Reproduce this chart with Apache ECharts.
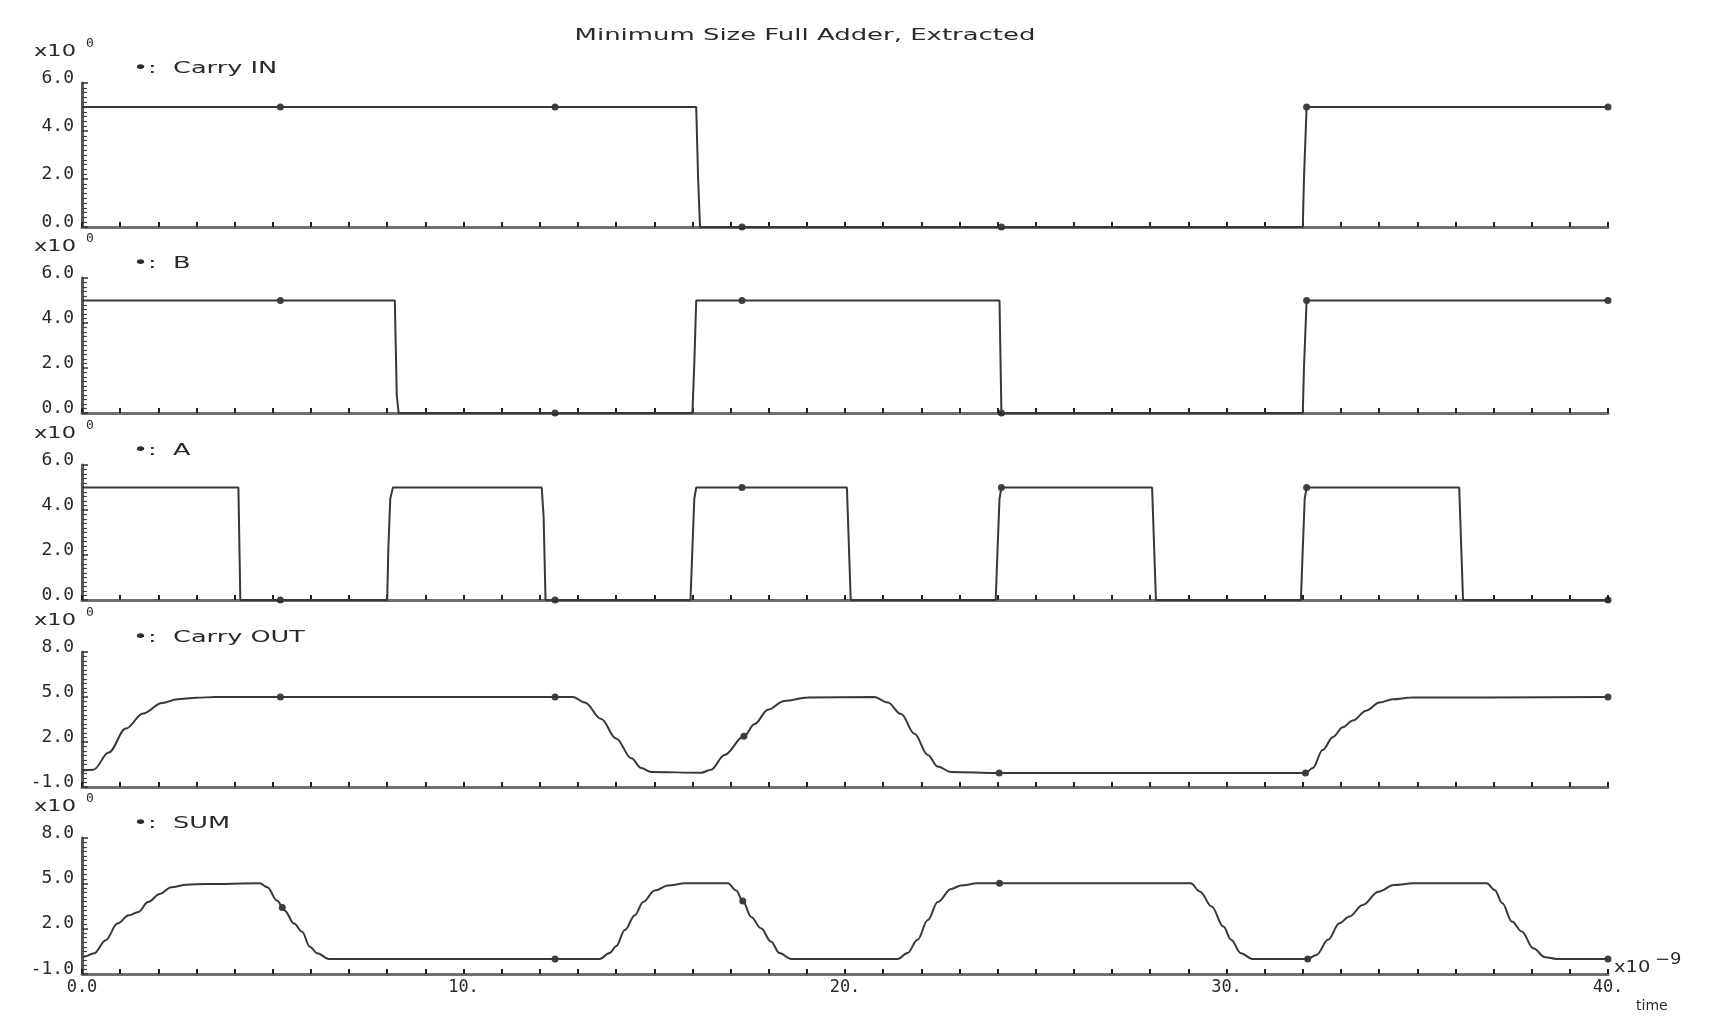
<!DOCTYPE html>
<html>
<head>
<meta charset="utf-8">
<script src="https://cdn.jsdelivr.net/npm/echarts/dist/echarts.min.js"></script>
<style>
html,body{margin:0;padding:0;background:#fff;}
#chart{width:1710px;height:1034px;}
</style>
</head>
<body>
<div id="chart"></div>
<script>
// ---------------- DATA (time in ns, value in V) ----------------
const chartTitle = 'Minimum Size Full Adder, Extracted';
const traceNames = ['Carry IN', 'B', 'A', 'Carry OUT', 'SUM'];

const carryIn = [[0,5],[16.1,5],[16.15,2],[16.2,0],[32.0,0],[32.03,2],[32.1,5],[40,5]];
const inB = [[0,5],[8.2,5],[8.25,0.8],[8.3,0],[16.0,0],[16.05,2.2],[16.1,5],[24.05,5],[24.1,0],[32.0,0],[32.03,2],[32.1,5],[40,5]];
const inA = [[0,5],[4.1,5],[4.15,0],[8.0,0],[8.03,2.3],[8.08,4.5],[8.15,5],[12.05,5],[12.1,3.7],[12.15,0],
             [15.95,0],[16.0,2.3],[16.05,4.5],[16.1,5],[20.05,5],[20.15,0],[23.95,0],[24.0,2.3],[24.05,4.5],[24.1,5],
             [28.05,5],[28.15,0],[31.95,0],[32.0,2.3],[32.05,4.5],[32.1,5],[36.1,5],[36.2,0],[40,0]];
const carryOut = [[0,0.1],[0.3,0.15],[0.7,1.3],[1.15,2.9],[1.6,3.9],[2.1,4.6],[2.5,4.85],[3.0,4.95],[3.5,5],
             [12.87,5],[13.18,4.63],[13.61,3.54],[14.0,2.23],[14.4,0.92],[14.66,0.26],[14.92,0],
             [16.23,-0.05],[16.49,0.15],[16.84,1.14],[17.35,2.38],[17.63,3.2],[17.98,4.15],[18.41,4.74],[19.02,4.96],
             [20.77,5],[21.12,4.63],[21.47,3.86],[21.82,2.55],[22.17,1.14],[22.43,0.37],[22.78,0],
             [24.04,-0.07],[32.07,-0.07],[32.26,0.26],[32.52,1.46],[32.79,2.34],[33.05,2.99],[33.31,3.43],
             [33.66,4.09],[34.01,4.63],[34.36,4.85],[34.84,4.96],[40,5]];
const sumOut = [[0,0.1],[0.07,0.15],[0.32,0.37],[0.62,1.24],[0.93,2.34],[1.23,2.88],[1.48,3.1],[1.73,3.76],
             [2.04,4.3],[2.34,4.74],[2.74,4.91],[3.25,4.96],[4.66,5],[4.86,4.74],[5.11,3.86],[5.31,3.21],
             [5.56,2.34],[5.77,1.79],[5.97,0.81],[6.17,0.37],[6.47,0],[13.57,0],[13.83,0.39],[14.0,0.83],
             [14.23,1.91],[14.49,2.89],[14.71,3.76],[15.01,4.52],[15.36,4.85],[15.8,5],[16.93,5],[17.15,4.52],
             [17.32,3.83],[17.54,2.78],[17.8,2.02],[18.06,1.15],[18.28,0.39],[18.59,0],[21.38,0],[21.64,0.39],
             [21.9,1.26],[22.17,2.57],[22.43,3.76],[22.78,4.63],[23.04,4.85],[23.47,5],[29.06,5],[29.31,4.45],
             [29.61,3.46],[29.92,2.14],[30.12,1.26],[30.38,0.37],[30.68,0],[32.13,0],[32.36,0.26],[32.66,1.26],
             [32.96,2.36],[33.22,2.8],[33.57,3.57],[33.98,4.45],[34.39,4.89],[34.89,5],[36.82,5],[37.03,4.56],
             [37.23,3.68],[37.48,2.47],[37.74,1.81],[38.04,0.7],[38.35,0.11],[38.65,0],[40,0]];

// trace identification dots
const markCarryIn  = [[5.2,5],[12.4,5],[17.3,0],[24.1,0],[32.1,5],[40,5]];
const markB        = [[5.2,5],[12.4,0],[17.3,5],[24.1,0],[32.1,5],[40,5]];
const markA        = [[5.2,0],[12.4,0],[17.3,5],[24.1,5],[32.1,5],[40,0]];
const markCarryOut = [[5.2,5],[12.4,5],[17.35,2.38],[24.04,-0.07],[32.07,-0.07],[40,5]];
const markSum      = [[5.25,3.4],[12.4,0],[17.32,3.83],[24.05,5],[32.13,0],[40,0]];

// tick labels
const yTicksDigital = [0, 2, 4, 6];
const yTicksAnalog  = [-1, 2, 5, 8];
const xTicks = [0, 10, 20, 30, 40];
const xMinorStep = 1;
const yExponent = '0';
const xExponent = '\u22129';
const xName = 'time';

// ---------------- LAYOUT / STYLE ----------------
const traces = [carryIn, inB, inA, carryOut, sumOut];
const marks  = [markCarryIn, markB, markA, markCarryOut, markSum];
const yTickSets = [yTicksDigital, yTicksDigital, yTicksDigital, yTicksAnalog, yTicksAnalog];
const analog = [false, false, false, true, true];
const gridTops = [83, 278, 465, 652, 838];
const gridBottoms = [227, 413, 600, 787, 974];
const LEFT = 82, RIGHT = 102;
const INK = '#383838';
const TXT = '#2a2a2a';
const FONT = 'DejaVu Sans';
const MONO = 'DejaVu Sans Mono';

const fmtY = v => v.toFixed(1);
const fmtX = v => (xTicks.indexOf(v) >= 0 ? (v === 0 ? '0.0' : v + '.') : '');

const grids = [], xAxes = [], yAxes = [], series = [], graphics = [];

traces.forEach((data, i) => {
  const yt = yTickSets[i];
  grids.push({left: LEFT, right: RIGHT, top: gridTops[i], height: gridBottoms[i] - gridTops[i]});
  xAxes.push({
    type: 'value', gridIndex: i,
    min: xTicks[0], max: xTicks[xTicks.length - 1], interval: xMinorStep,
    axisLine: {show: true, onZero: false, lineStyle: {color: '#707070', width: 3}},
    axisTick: {show: true, inside: true, length: 5, lineStyle: {color: '#222', width: 2}},
    splitLine: {show: false},
    axisLabel: {show: i === traces.length - 1, formatter: fmtX, fontFamily: MONO, fontSize: 17,
                color: TXT, margin: 5}
  });
  yAxes.push({
    type: 'value', gridIndex: i,
    min: yt[0], max: yt[yt.length - 1], interval: yt[1] - yt[0],
    axisLine: {show: true, onZero: false, lineStyle: {color: '#5a5a5a', width: 3}},
    axisTick: {show: true, inside: true, length: 6, lineStyle: {color: '#333', width: 1.5}},
    minorTick: {show: true, splitNumber: 10, length: 5, lineStyle: {color: '#444', width: 1.2}},
    splitLine: {show: false}, minorSplitLine: {show: false},
    axisLabel: {formatter: fmtY, fontFamily: MONO, fontSize: 18, color: TXT, margin: 8,
                verticalAlign: 'bottom', lineHeight: 10}
  });
  series.push({
    type: 'line', xAxisIndex: i, yAxisIndex: i, data: data,
    showSymbol: false, smooth: analog[i] ? 0.35 : false, smoothMonotone: 'x',
    lineStyle: {color: INK, width: 2}, silent: true, animation: false
  });
  series.push({
    type: 'scatter', xAxisIndex: i, yAxisIndex: i, data: marks[i],
    symbol: 'circle', symbolSize: 7, itemStyle: {color: '#111'}, silent: true, animation: false
  });
  const t = gridTops[i];
  graphics.push({type: 'text', x: 34, y: t - 31, style: {text: 'x10', font: '15px ' + FONT, fill: TXT,
                 align: 'left', verticalAlign: 'middle'}, scaleX: 1.5});
  graphics.push({type: 'text', x: 86, y: t - 39, style: {text: yExponent, font: '13px ' + MONO, fill: TXT,
                 align: 'left', verticalAlign: 'middle'}});
  graphics.push({type: 'text', x: 133, y: t - 14, style: {text: '\u2022:  ' + traceNames[i], font: '16px ' + FONT,
                 fill: TXT, align: 'left', verticalAlign: 'middle'}, scaleX: 1.6});
});

graphics.push({type: 'text', x: 805, y: 36, style: {text: chartTitle, font: '16px ' + FONT, fill: TXT,
               align: 'center', verticalAlign: 'middle'}, scaleX: 1.62});
graphics.push({type: 'text', x: 1614, y: 968, style: {text: 'x10', font: '15px ' + FONT, fill: TXT,
               align: 'left', verticalAlign: 'middle'}, scaleX: 1.3});
graphics.push({type: 'text', x: 1655, y: 960, style: {text: xExponent, font: '15px ' + FONT, fill: TXT,
               align: 'left', verticalAlign: 'middle'}, scaleX: 1.2});
graphics.push({type: 'text', x: 1636, y: 1006, style: {text: xName, font: '14px ' + FONT, fill: TXT,
               align: 'left', verticalAlign: 'middle'}});

const chart = echarts.init(document.getElementById('chart'), null, {renderer: 'canvas'});
chart.setOption({
  backgroundColor: '#ffffff',
  animation: false,
  grid: grids, xAxis: xAxes, yAxis: yAxes, series: series,
  graphic: graphics
});
</script>
</body>
</html>
